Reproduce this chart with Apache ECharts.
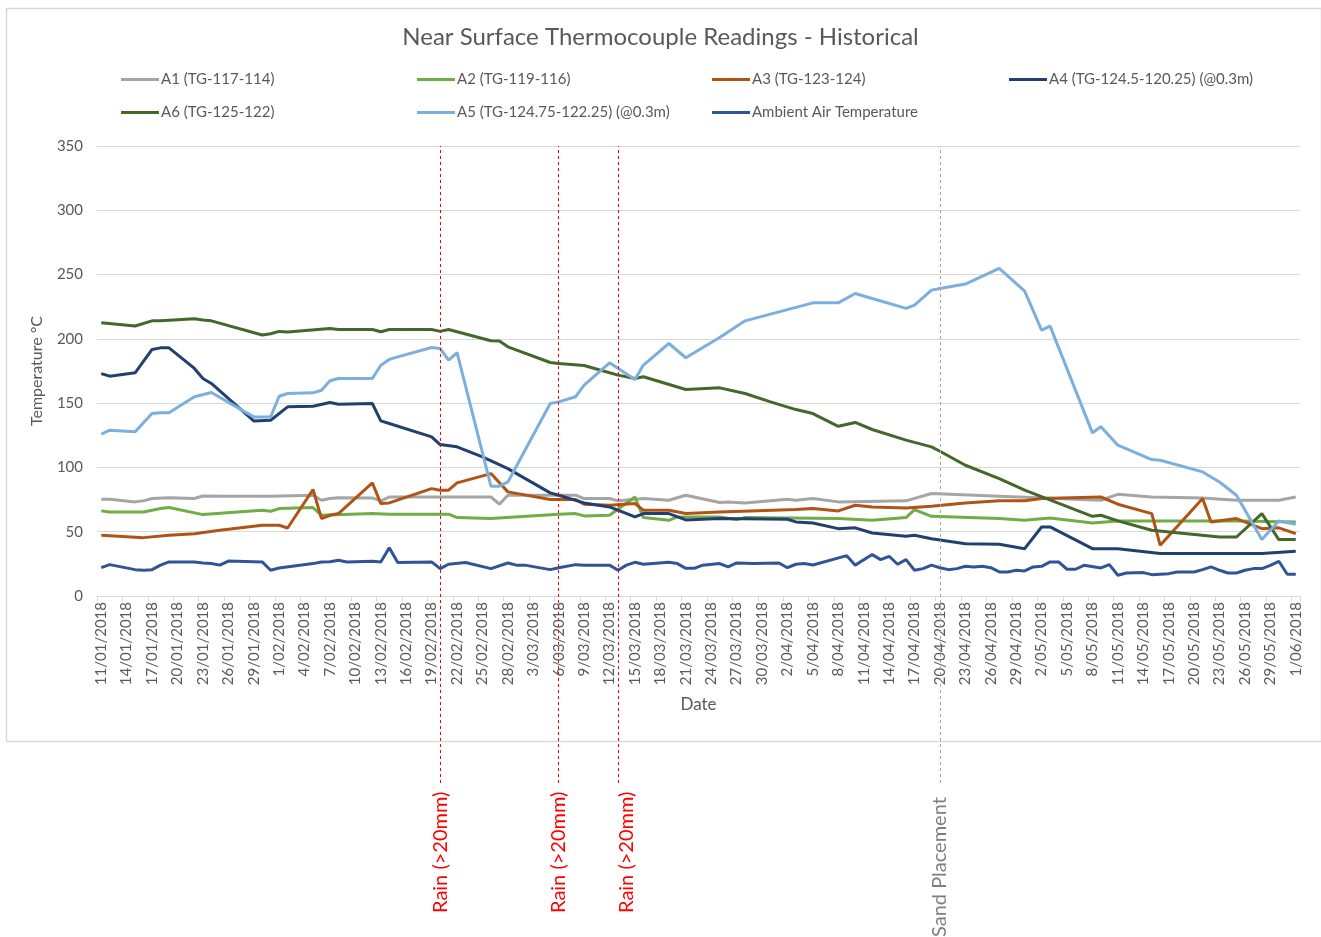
<!DOCTYPE html>
<html>
<head>
<meta charset="utf-8">
<script src="https://cdn.jsdelivr.net/npm/echarts@6/dist/echarts.min.js"></script>
<style>
  html, body { margin: 0; padding: 0; background: #fff; }
  #chart { width: 1321px; height: 937px; }
</style>
</head>
<body>
<div id="chart"></div>
<script>
// categories: every day 11/01/2018 .. 1/06/2018
const categories = []
for (let d = new Date(2018, 0, 11); d <= new Date(2018, 5, 1); d.setDate(d.getDate() + 1)) {
  categories.push(d.getDate() + '/' + String(d.getMonth() + 1).padStart(2, '0') + '/2018')
}

const seriesNames = ['A1 (TG-117-114)', 'A2 (TG-119-116)', 'A3 (TG-123-124)', 'A4 (TG-124.5-120.25) (@0.3m)',
  'A6 (TG-125-122)', 'A5 (TG-124.75-122.25) (@0.3m)', 'Ambient Air Temperature']

/* readings [date, °C] */
const a1 = [['11/01',75.2],['12/01',75.2],['15/01',73.2],['16/01',74],['17/01',75.8],['19/01',76.5],['22/01',75.8],['23/01',77.8],['26/01',77.6],['31/01',77.6],['5/02',78.4],['6/02',74.5],['7/02',75.8],['8/02',76.5],['12/02',76.3],['13/02',74],['14/02',77],['19/02',77],['26/02',77],['27/02',71.4],['28/02',78.4],['8/03',78.4],['9/03',75.8],['12/03',75.8],['13/03',74],['16/03',75.8],['19/03',74.5],['21/03',78.4],['25/03',72.7],['26/03',73.2],['28/03',72.4],['2/04',75.2],['3/04',74.5],['5/04',75.8],['8/04',73.2],['16/04',74],['19/04',79.7],['27/04',77.6],['9/05',74.5],['11/05',79.1],['15/05',77],['21/05',76.3],['25/05',74.5],['30/05',74.5],['1/06',77]]
const a2 = [['11/01',66.2],['12/01',65.4],['16/01',65.4],['18/01',68],['19/01',68.8],['23/01',63.3],['30/01',66.7],['31/01',65.9],['1/02',68],['5/02',68.8],['6/02',62.8],['12/02',64.1],['14/02',63.6],['21/02',63.6],['22/02',61],['26/02',60.2],['6/03',63.6],['8/03',64.1],['9/03',62.3],['12/03',62.8],['15/03',77],['16/03',61],['19/03',58.9],['20/03',61.5],['25/03',61.5],['27/03',59.4],['28/03',61],['8/04',60.2],['12/04',58.9],['16/04',61],['17/04',67.2],['19/04',62],['27/04',60.2],['30/04',58.9],['3/05',60.7],['8/05',56.8],['11/05',58.4],['17/05',58.4],['25/05',58.4],['1/06',57.6]]
const a3 = [['11/01',47.2],['16/01',45.4],['19/01',47.2],['22/01',48.5],['25/01',51.1],['30/01',55],['1/02',55],['2/02',52.9],['5/02',82.8],['6/02',60.2],['7/02',62.8],['8/02',64.1],['12/02',88],['13/02',71.9],['14/02',72.4],['19/02',83.5],['20/02',82.3],['21/02',82.3],['22/02',88],['26/02',95.2],['28/02',81],['5/03',75],['8/03',75],['9/03',71.4],['12/03',70.6],['15/03',71.9],['16/03',66.7],['19/03',66.7],['21/03',64.1],['25/03',65.4],['3/04',67.2],['5/04',68],['8/04',66.2],['10/04',70.6],['12/04',69.3],['16/04',68.5],['19/04',69.8],['23/04',72.4],['27/04',74],['30/04',74],['2/05',75.8],['9/05',77],['11/05',71.4],['15/05',64.1],['16/05',39.4],['21/05',75.8],['22/05',57.6],['25/05',60.2],['28/05',52.4],['30/05',53],['1/06',48.5]]
const a4 = [['11/01',173],['12/01',171],['15/01',173.6],['17/01',191.8],['18/01',193],['19/01',193],['22/01',177],['23/01',169.2],['24/01',165.3],['29/01',136.2],['31/01',136.7],['2/02',147.1],['5/02',147.6],['7/02',150.5],['8/02',149.2],['12/02',149.7],['13/02',136.2],['14/02',134.2],['19/02',123.8],['20/02',117.8],['22/02',116],['25/02',108.2],['28/02',99.1],['5/03',80.2],['6/03',78.4],['9/03',72.4],['12/03',69.3],['15/03',61.5],['16/03',64.1],['19/03',64.1],['21/03',59.2],['25/03',60.2],['2/04',59.7],['3/04',57.6],['5/04',56.8],['8/04',52.4],['10/04',53],['12/04',49],['16/04',46.4],['17/04',47.2],['19/04',44.6],['23/04',40.7],['27/04',40.2],['30/04',36.8],['2/05',53.7],['3/05',53.7],['8/05',36.8],['11/05',36.8],['16/05',33],['22/05',33],['28/05',33],['1/06',34.8]]
const a6 = [['11/01',212.5],['15/01',210],['17/01',214],['18/01',214],['22/01',215.6],['23/01',214.6],['24/01',214],['30/01',203],['31/01',204],['1/02',205.8],['2/02',205.3],['7/02',208],['8/02',207.3],['12/02',207.3],['13/02',205.5],['14/02',207.3],['19/02',207.3],['20/02',205.8],['21/02',207.3],['26/02',198.5],['27/02',198.3],['28/02',193.8],['5/03',181.6],['6/03',180.9],['9/03',179.3],['12/03',173.6],['13/03',171.8],['15/03',169.2],['16/03',170.5],['21/03',160.6],['25/03',161.9],['28/03',157.5],['31/03',151],['3/04',145],['5/04',141.9],['8/04',132],['10/04',135],['12/04',129.5],['16/04',121.2],['19/04',116],['20/04',112.6],['23/04',101.7],['27/04',91.3],['30/04',82.3],['8/05',62],['9/05',62.8],['11/05',58.4],['15/05',51.1],['23/05',45.9],['25/05',45.9],['28/05',64.1],['30/05',43.9],['1/06',43.9]]
const a5 = [['11/01',125.8],['12/01',129],['15/01',127.7],['17/01',142],['18/01',142.5],['19/01',142.5],['22/01',155],['24/01',158.3],['29/01',139.3],['31/01',139.3],['1/02',155.4],['2/02',157.5],['5/02',158],['6/02',160],['7/02',167.4],['8/02',169.2],['12/02',169.2],['13/02',179.5],['14/02',184],['15/02',186],['19/02',193.3],['20/02',192.5],['21/02',183.5],['22/02',189.2],['26/02',85.4],['27/02',85.4],['28/02',88.7],['5/03',149.7],['6/03',151],['8/03',155],['9/03',164],['12/03',181.4],['15/03',168.4],['16/03',179.6],['19/03',196.4],['21/03',185.3],['25/03',201.1],['28/03',214],['5/04',228],['8/04',228],['10/04',235.3],['12/04',231.4],['16/04',223.7],['17/04',226.3],['19/04',237.9],['20/04',239.2],['23/04',242.6],['27/04',254.8],['30/04',237.2],['2/05',206.8],['3/05',209.9],['8/05',126.9],['9/05',131.6],['11/05',117.3],['15/05',106.1],['16/05',105.6],['21/05',96.5],['23/05',88.7],['25/05',78.4],['28/05',43.9],['30/05',58.4],['1/06',55.8]]
const ambient = [['11/01',22],['12/01',24.4],['15/01',20.5],['16/01',20],['17/01',20.5],['18/01',24],['19/01',26.5],['22/01',26.5],['23/01',25.7],['24/01',25.2],['25/01',24],['26/01',27.2],['30/01',26.5],['31/01',20],['1/02',21.8],['5/02',25.2],['6/02',26.5],['7/02',26.7],['8/02',27.8],['9/02',26.5],['12/02',27],['13/02',26.5],['14/02',37.6],['15/02',26],['19/02',26.5],['20/02',21.3],['21/02',24.7],['23/02',26],['26/02',21.3],['28/02',25.7],['1/03',24],['2/03',24],['5/03',20.5],['6/03',22],['8/03',24.4],['9/03',24],['12/03',24],['13/03',20],['14/03',24],['15/03',26.2],['16/03',24.7],['19/03',26.2],['20/03',25.2],['21/03',21.5],['22/03',21.5],['23/03',24],['25/03',25.2],['26/03',22.6],['27/03',25.7],['29/03',25.2],['1/04',25.7],['2/04',22],['3/04',24.7],['4/04',25.2],['5/04',24.1],['9/04',31.4],['10/04',24],['12/04',32.2],['13/04',28.3],['14/04',30.9],['15/04',24.7],['16/04',28.3],['17/04',20],['18/04',21.3],['19/04',24],['20/04',22],['21/04',20.5],['22/04',21.3],['23/04',23.1],['24/04',22.6],['25/04',23.1],['26/04',22],['27/04',18.7],['28/04',18.7],['29/04',20],['30/04',19.5],['1/05',22.6],['2/05',23.1],['3/05',26.5],['4/05',26.5],['5/05',20.8],['6/05',20.8],['7/05',23.9],['9/05',21.8],['10/05',24.4],['11/05',16.1],['12/05',17.9],['14/05',18.2],['15/05',16.6],['17/05',17.4],['18/05',18.7],['20/05',18.7],['21/05',20.5],['22/05',22.6],['23/05',20],['24/05',17.9],['25/05',17.9],['26/05',20],['27/05',21.3],['28/05',21.3],['29/05',23.9],['30/05',27],['31/05',16.9],['1/06',16.9]]

const rainDates = ['20/02', '6/03', '13/03']
const rainLabelDates = ['20/02', '6/03', '14/03']
const sandDate = '20/04'

const colors = ['#a5a5a5', '#70ad47', '#b05416', '#22406f', '#43682b', '#7cafde', '#2f5597']
const readings = [a1, a2, a3, a4, a6, a5, ambient]

const cat = d => d + '/2018'
const toPoints = rows => rows.map(([d, v]) => [categories.indexOf(cat(d)), v])

// legend slots (Excel style two rows)
const legendPos = [[121, 72], [417, 72], [712, 72], [1009, 72], [121, 105], [417, 105], [712, 105]]

const font = 'Lato, "Open Sans", sans-serif'
const grey = '#595959'

function hiddenX(gridIndex) {
  return { type: 'category', gridIndex, data: categories, boundaryGap: true, show: false }
}
function hiddenY(gridIndex) {
  return { type: 'value', gridIndex, min: 0, max: 1, show: false }
}

// label-only marker line (text runs upward from the bottom of its grid)
function markerText(axisIndex, items, color) {
  return {
    name: 'marker text ' + axisIndex,
    type: 'line',
    xAxisIndex: axisIndex,
    yAxisIndex: axisIndex,
    data: [],
    silent: true,
    markLine: {
      silent: true,
      symbol: 'none',
      lineStyle: { width: 0, color: 'rgba(0,0,0,0)' },
      label: { show: true, position: 'insideStart', distance: 0, formatter: '{b}', color, opacity: 1, fontSize: 20, fontFamily: font },
      data: items,
    },
  }
}

let option = {
  animation: false,
  textStyle: { fontFamily: font },
  title: {
    text: 'Near Surface Thermocouple Readings - Historical',
    left: 'center',
    top: 20,
    textStyle: { fontSize: 24, fontWeight: 'normal', color: grey, fontFamily: font },
  },
  legend: seriesNames.map((n, k) => ({
    data: [n],
    left: legendPos[k][0],
    top: legendPos[k][1],
    padding: 0,
    icon: 'rect',
    itemWidth: 38,
    itemHeight: 3,
    selectedMode: false,
    textStyle: { fontSize: 15, color: grey, fontFamily: font, padding: [0, 0, 0, -3] },
  })),
  grid: [
    { left: 97, right: 21, top: 146, bottom: 341 },
    { left: 97, right: 21, top: 146, bottom: 154 }, // marker lines
    { left: 97, right: 21, top: 780, bottom: 24 }, // rain labels
    { left: 97, right: 21, top: 780, bottom: 0 }, // sand label
  ],
  xAxis: [
    {
      type: 'category',
      data: categories,
      boundaryGap: true,
      name: 'Date',
      nameLocation: 'middle',
      nameGap: 100,
      nameTextStyle: { fontSize: 17, color: grey },
      axisLine: { lineStyle: { color: '#d9d9d9', width: 1 } },
      axisTick: { show: true, interval: 2, length: 5, lineStyle: { color: '#d9d9d9' } },
      axisLabel: { interval: 2, rotate: 90, fontSize: 15, color: grey, margin: 6 },
      splitLine: { show: false },
    },
    hiddenX(1), hiddenX(2), hiddenX(3),
  ],
  yAxis: [
    {
      type: 'value',
      min: 0,
      max: 350,
      interval: 50,
      name: 'Temperature °C',
      nameLocation: 'middle',
      nameGap: 52,
      nameTextStyle: { fontSize: 16, color: grey },
      axisLine: { show: false },
      axisTick: { show: false },
      axisLabel: { fontSize: 15, color: grey, margin: 14 },
      splitLine: { lineStyle: { color: '#d9d9d9', width: 1 } },
    },
    hiddenY(1), hiddenY(2), hiddenY(3),
  ],
  graphic: [
    {
      type: 'rect', left: 4, top: 6, z: -10, silent: true,
      shape: { width: 1315, height: 733 },
      style: { fill: 'none', stroke: '#d9d9d9', lineWidth: 1.5 },
    },
  ],
  series: [
    ...seriesNames.map((n, k) => ({
      name: n,
      type: 'line',
      data: toPoints(readings[k]),
      symbol: 'none',
      showSymbol: false,
      lineStyle: { width: 3, color: colors[k] },
      itemStyle: { color: colors[k] },
    })),
    {
      name: 'events',
      type: 'line',
      xAxisIndex: 1,
      yAxisIndex: 1,
      data: [],
      silent: true,
      markLine: {
        silent: true,
        symbol: 'none',
        label: { show: false },
        lineStyle: { type: [3, 3], width: 1, color: '#ff0000' },
        data: rainDates.map(d => ({ xAxis: cat(d) }))
          .concat([{ xAxis: cat(sandDate), lineStyle: { color: '#a6a6a6', type: [3, 3], width: 1 } }]),
      },
    },
    markerText(2, rainLabelDates.map(d => ({ name: 'Rain (>20mm)', xAxis: cat(d) })), '#ff0000'),
    markerText(3, [{ name: 'Sand Placement', xAxis: cat(sandDate) }], '#7f7f7f'),
  ],
}

let myChart = echarts.init(document.getElementById('chart'))
myChart.setOption(option)
</script>
</body>
</html>
